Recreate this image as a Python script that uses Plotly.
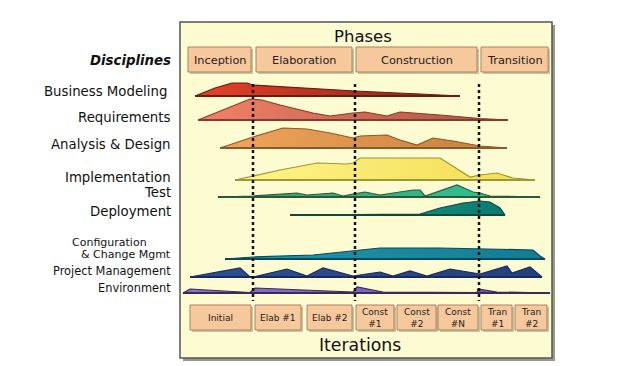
import plotly.graph_objects as go

# ---------------- data ----------------
disciplines = ["Business Modeling", "Requirements", "Analysis & Design", "Implementation",
               "Test", "Deployment", "Configuration<br>& Change Mgmt", "Project Management", "Environment"]
phases = ["Inception", "Elaboration", "Construction", "Transition"]
iterations = ["Initial", "Elab #1", "Elab #2", "Const<br>#1", "Const<br>#2", "Const<br>#N", "Tran<br>#1", "Tran<br>#2"]

# effort profiles: time position (project timeline units) and effort height
bm_t = [195, 215, 232, 247, 253, 300, 355, 420, 460]
bm_h = [0, 8, 13, 13, 11, 8, 5, 2, 0]
req_t = [198, 225, 250, 262, 280, 313, 330, 353, 365, 387, 400, 440, 480, 508]
req_h = [0, 11, 21, 20, 15, 7, 4, 7, 8, 4, 8, 5, 1.5, 0]
ad_t = [220, 253, 283, 307, 330, 353, 360, 387, 400, 417, 433, 453, 480, 507]
ad_h = [0, 11, 20, 19, 15, 10, 12, 13, 8, 3, 10, 7, 2, 0]
imp_t = [235, 253, 280, 317, 347, 353, 360, 440, 470, 480, 497, 513, 535]
imp_h = [0, 4, 10, 17, 16, 17, 22, 22, 3, 5, 7, 2, 0]
test_t = [218, 253, 297, 307, 333, 343, 353, 365, 380, 413, 420, 425, 457, 473, 480, 490, 540]
test_h = [0, 1, 4, 2, 4, 1, 3, 5, 2, 7, 7, 1, 12, 5, 4, 1, 0]
dep_t = [290, 420, 440, 463, 480, 490, 500, 505]
dep_h = [0, 1, 7, 12, 14, 13, 7, 0]
cm_t = [225, 253, 313, 353, 380, 440, 533, 540, 545]
cm_h = [0, 2, 4, 8, 11, 11, 9, 3, 0]
pm_t = [190, 240, 250, 253, 287, 307, 323, 353, 380, 393, 410, 427, 450, 473, 480, 507, 512, 530, 542]
pm_h = [0, 9, 0, 0, 8, 1, 9, 1, 5, 1, 6, 1, 8, 4, 3, 11, 4, 10, 0]
env_t = [183, 190, 250, 255, 353, 357, 383, 477, 478, 497, 550]
env_h = [0, 4, 0.5, 5, 1, 6, 1, 0.5, 4, 1, 0]

profiles_t = [bm_t, req_t, ad_t, imp_t, test_t, dep_t, cm_t, pm_t, env_t]
profiles_h = [bm_h, req_h, ad_h, imp_h, test_h, dep_h, cm_h, pm_h, env_h]

# ---------------- layout / style ----------------
baselines = [96, 120, 148, 180, 197, 215, 259, 277, 293]
label_y = [91, 117, 144, 177, 192, 211, 248, 271, 288]
label_size = [13.3, 13.3, 13.3, 13.3, 13.3, 13.3, 11, 11.4, 11.4]
grad_cols = [("#e8402a", "#7e2418"), ("#f28268", "#a85444"), ("#f2a55a", "#c4803e"),
             ("#fff48a", "#f2dc52"), ("#3f9a5c", "#2cc79c"), ("#1fa08c", "#0b7a70"),
             ("#2396ac", "#157c92"), ("#2f4f92", "#243f7e"), ("#8a72c4", "#6a58a8")]
edge_cols = ["#6e1a10", "#8a3a2a", "#8a5a2a", "#9a9a30", "#2a5a3a", "#0a4a40",
             "#0a4a5a", "#1a2a5a", "#3a2a5a"]
phase_x = [(188, 251), (256, 352), (356, 477), (481, 548)]
iter_x = [(190, 251), (255, 301), (307, 352), (356, 394), (397, 436), (438, 478), (481, 512), (515, 547)]
milestones = [253, 355, 479]

FONT = "DejaVu Sans"
BOX_FILL = "#f6c89c"
BOX_LINE = "#a88462"
TXT = "#111"

fig = go.Figure()
shapes = []
annotations = []

# panel with shadow
shapes.append(dict(type="rect", x0=183, x1=555, y0=25, y1=361, fillcolor="#9a9a8a",
                   line=dict(width=0), layer="below"))
shapes.append(dict(type="rect", x0=180, x1=552, y0=22, y1=358, fillcolor="#fdfbd2",
                   line=dict(color="#555555", width=1.5), layer="below"))

def box(x0, x1, y0, y1):
    shapes.append(dict(type="rect", x0=x0 + 2, x1=x1 + 2, y0=y0 + 2, y1=y1 + 2,
                       fillcolor="#c8c4a0", line=dict(width=0), layer="below"))
    shapes.append(dict(type="rect", x0=x0, x1=x1, y0=y0, y1=y1, fillcolor=BOX_FILL,
                       line=dict(color=BOX_LINE, width=1), layer="below"))

for (x0, x1), name in zip(phase_x, phases):
    box(x0, x1, 47, 72)
    annotations.append(dict(x=(x0 + x1) / 2, y=60, text=name, showarrow=False,
                            font=dict(family=FONT, size=11.3, color="#222")))
for (x0, x1), name in zip(iter_x, iterations):
    box(x0, x1, 305, 330)
    annotations.append(dict(x=(x0 + x1) / 2, y=317.5, text=name, showarrow=False,
                            font=dict(family=FONT, size=9, color="#222")))

annotations.append(dict(x=363, y=36, text="Phases", showarrow=False,
                        font=dict(family=FONT, size=16.5, color=TXT)))
annotations.append(dict(x=360, y=345, text="Iterations", showarrow=False,
                        font=dict(family=FONT, size=17.3, color=TXT)))
annotations.append(dict(x=173, y=60, text="<b><i>Disciplines</i></b>", showarrow=False,
                        xanchor="right", font=dict(family=FONT, size=13.3, color=TXT)))

# humps
for i, (ts, hs) in enumerate(zip(profiles_t, profiles_h)):
    b = baselines[i]
    xs = list(ts) + [ts[-1], ts[0]]
    ys = [b - h for h in hs] + [b, b]
    c0, c1 = grad_cols[i]
    fig.add_trace(go.Scatter(
        x=xs, y=ys, mode="lines", fill="toself",
        fillgradient=dict(type="horizontal", colorscale=[[0, c0], [1, c1]]),
        line=dict(color=edge_cols[i], width=1.2), hoverinfo="skip", showlegend=False))
    fig.add_trace(go.Scatter(x=[ts[0], ts[-1]], y=[b, b], mode="lines",
                             line=dict(color=edge_cols[i], width=1.8),
                             hoverinfo="skip", showlegend=False))

# milestone dotted lines
for m in milestones:
    shapes.append(dict(type="line", x0=m, x1=m, y0=84, y1=301,
                       line=dict(color="#111", width=2.5, dash="dot"), layer="above"))

# discipline labels
for name, y, s in zip(disciplines, label_y, label_size):
    if "<br>" in name:
        first, second = name.split("<br>")
        annotations.append(dict(x=70, y=y - 6, text=first, showarrow=False, xanchor="left",
                                font=dict(family=FONT, size=s, color=TXT)))
        annotations.append(dict(x=173, y=y + 6, text=second, showarrow=False, xanchor="right",
                                font=dict(family=FONT, size=s, color=TXT)))
    else:
        annotations.append(dict(x=173 if name != "Business Modeling" else 169, y=y, text=name,
                                showarrow=False, xanchor="right",
                                font=dict(family=FONT, size=s, color=TXT)))

fig.update_layout(
    width=624, height=366, margin=dict(l=0, r=0, t=0, b=0),
    paper_bgcolor="white", plot_bgcolor="white",
    xaxis=dict(range=[0, 624], visible=False, fixedrange=True),
    yaxis=dict(range=[366, 0], visible=False, fixedrange=True),
    shapes=shapes, annotations=annotations,
)
fig.write_html("out.html", config={"displayModeBar": False},
               post_script="document.body.style.margin='0';document.body.style.overflow='hidden';")
